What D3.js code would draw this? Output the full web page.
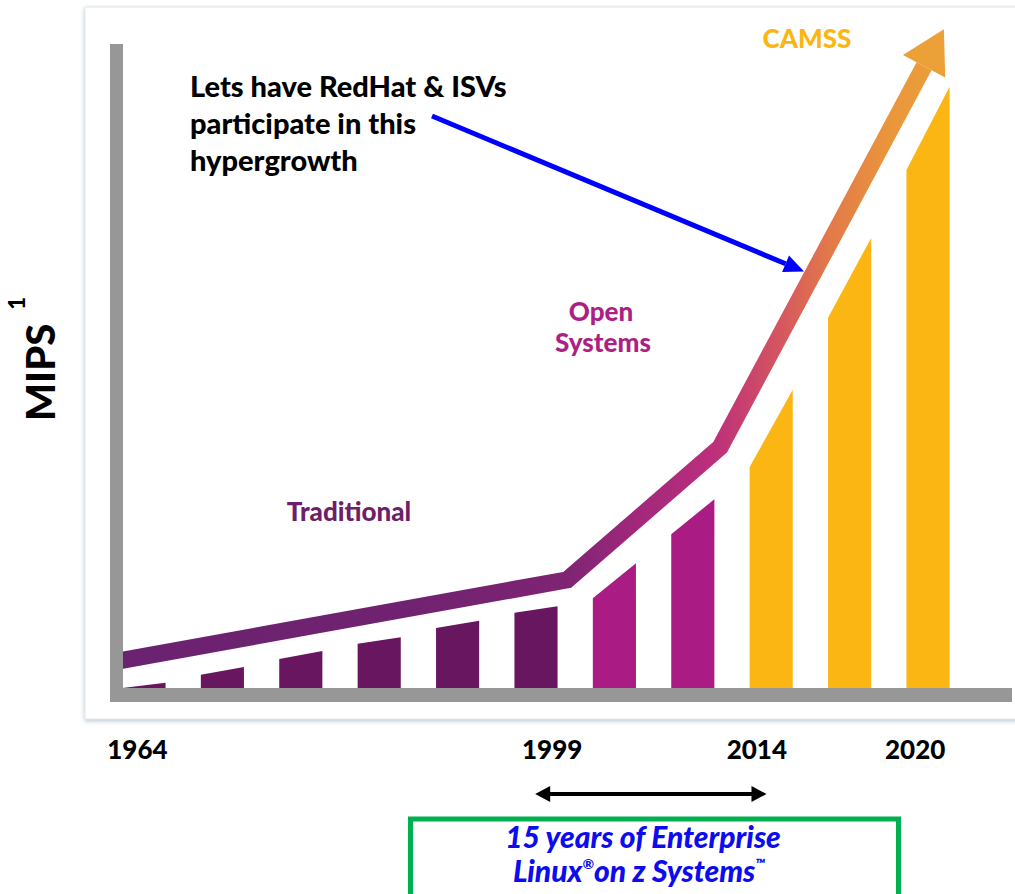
<!DOCTYPE html>
<html>
<head>
<meta charset="utf-8">
<script src="https://cdn.jsdelivr.net/npm/d3@7"></script>
<style>
  body { margin: 0; background: #fff; }
  text { font-family: Lato, "Open Sans", sans-serif; font-weight: 900; }
</style>
</head>
<body>
<div id="chart"></div>
<script>
// bars, left to right; tops are slanted so each bar has a low (left) and high (right) value
var barEra  = ['Traditional', 'Traditional', 'Traditional', 'Traditional', 'Traditional', 'Traditional',
               'Open Systems', 'Open Systems', 'CAMSS', 'CAMSS', 'CAMSS'];
var barLow  = [0, 2.0, 4.4, 6.7, 9.1, 11.4, 13.6, 23.3, 33.5, 56.1, 78.5];
var barHigh = [0.8, 3.2, 5.6, 7.7, 10.2, 12.4, 18.9, 28.6, 45.2, 68.2, 91.1];

// growth trend (position in bar units, MIPS value)
var trendPos   = [-0.32, 5.40, 7.35, 9.95];
var trendValue = [4.1, 16.4, 36.5, 94.2];

// x axis labels
var tickLabels = ['1964', '1999', '2014', '2020'];
var tickPos    = [-0.09, 5.2, 7.81, 9.83];

var eras      = ['Traditional', 'Open Systems', 'CAMSS'];
var eraColors = ['#691660', '#ab1b84', '#fbb614'];

var width = 1015, height = 894;

var svg = d3.select('#chart').append('svg')
    .attr('width', width)
    .attr('height', height);

var defs = svg.append('defs');

var shadow = defs.append('filter')
    .attr('id', 'shadow')
    .attr('x', '-5%').attr('y', '-5%')
    .attr('width', '110%').attr('height', '110%');
shadow.append('feDropShadow')
    .attr('dx', 0).attr('dy', 1.5)
    .attr('stdDeviation', 2)
    .attr('flood-color', '#7d97a6')
    .attr('flood-opacity', 0.55);

var grad = defs.append('linearGradient')
    .attr('id', 'trendGrad')
    .attr('gradientUnits', 'userSpaceOnUse')
    .attr('x1', 120).attr('y1', 0)
    .attr('x2', 945).attr('y2', 0);
[[0, '#6b2271'], [0.35, '#702270'], [0.54, '#7e2473'], [0.63, '#a3287c'],
 [0.72, '#bc2f7b'], [0.80, '#d5565f'], [0.86, '#e2794a'], [0.93, '#ea953c'], [1, '#eca038']]
    .forEach(function(s) {
        grad.append('stop').attr('offset', s[0]).attr('stop-color', s[1]);
    });

// white card behind the chart
svg.append('rect')
    .attr('x', 85).attr('y', 7)
    .attr('width', 1000).attr('height', 712)
    .attr('fill', '#fff')
    .attr('stroke', '#e3e8ec')
    .attr('stroke-width', 1)
    .attr('filter', 'url(#shadow)');

var x = d3.scaleLinear().domain([0, 10]).range([144, 928]);
var y = d3.scaleLinear().domain([0, 100]).range([688, 28]);
var color = d3.scaleOrdinal().domain(eras).range(eraColors);

var barWidth = (x(1) - x(0)) * 0.55;

// bars
svg.append('g').selectAll('polygon')
    .data(barLow)
    .enter().append('polygon')
    .attr('points', function(d, i) {
        var x0 = x(i) - barWidth / 2, x1 = x(i) + barWidth / 2;
        return [[x0, y(0)], [x0, y(barLow[i])], [x1, y(barHigh[i])], [x1, y(0)]].join(' ');
    })
    .attr('fill', function(d, i) { return color(barEra[i]); });

// trend line with arrow head
var trend = trendPos.map(function(p, i) { return [x(p), y(trendValue[i])]; });
var line = d3.line();

svg.append('path')
    .attr('d', line(trend))
    .attr('fill', 'none')
    .attr('stroke', 'url(#trendGrad)')
    .attr('stroke-width', 17)
    .attr('stroke-linejoin', 'miter');

var a = trend[trend.length - 2], b = trend[trend.length - 1];
var len = Math.hypot(b[0] - a[0], b[1] - a[1]);
var ux = (b[0] - a[0]) / len, uy = (b[1] - a[1]) / len;
svg.append('polygon')
    .attr('points', [
        [b[0] + ux * 42, b[1] + uy * 42],
        [b[0] - uy * 24, b[1] + ux * 24],
        [b[0] + uy * 24, b[1] - ux * 24]
    ].join(' '))
    .attr('fill', '#eca038');

// axes (thick grey bars)
svg.append('line')
    .attr('x1', 116.5).attr('y1', 44).attr('x2', 116.5).attr('y2', 702)
    .attr('stroke', '#979797').attr('stroke-width', 13);
svg.append('line')
    .attr('x1', 110).attr('y1', 695).attr('x2', 1012).attr('y2', 695)
    .attr('stroke', '#979797').attr('stroke-width', 14);

var xAxis = d3.axisBottom(x)
    .tickValues(tickPos)
    .tickFormat(function(d, i) { return tickLabels[i]; })
    .tickSize(0)
    .tickPadding(0);

var xAxisG = svg.append('g')
    .attr('transform', 'translate(0,741)')
    .call(xAxis);
xAxisG.select('.domain').remove();
xAxisG.selectAll('text')
    .attr('font-family', 'Lato, sans-serif')
    .attr('font-weight', 900)
    .attr('font-size', 26)
    .attr('fill', '#000');

// y axis title
var yTitle = svg.append('text')
    .attr('transform', 'translate(55,421) rotate(-90)')
    .attr('font-size', 40)
    .attr('fill', '#000');
yTitle.append('tspan').text('MIPS');
yTitle.append('tspan').attr('dx', 14).attr('dy', -30).attr('font-size', 22).text('1');

// era labels
svg.append('text')
    .attr('x', 349).attr('y', 521)
    .attr('text-anchor', 'middle')
    .attr('font-size', 26)
    .attr('fill', '#6d1f6a')
    .text('Traditional');

var openLabel = svg.append('text')
    .attr('text-anchor', 'middle')
    .attr('font-size', 26)
    .attr('fill', '#ad1f85');
openLabel.append('tspan').attr('x', 601).attr('y', 321).text('Open');
openLabel.append('tspan').attr('x', 603).attr('y', 352).text('Systems');

svg.append('text')
    .attr('x', 807).attr('y', 48)
    .attr('text-anchor', 'middle')
    .attr('font-size', 26)
    .attr('fill', '#fbb614')
    .text('CAMSS');

// annotation
var note = svg.append('text')
    .attr('font-size', 29)
    .attr('fill', '#000');
['Lets have RedHat & ISVs', 'participate in this', 'hypergrowth'].forEach(function(t, i) {
    note.append('tspan').attr('x', 190).attr('y', 97 + i * 37).text(t);
});

// blue pointer to the trend line
var c = [x(8.52), y(d3.scaleLinear().domain([trendPos[2], trendPos[3]]).range([trendValue[2], trendValue[3]])(8.52))];
var tip = [c[0] + uy * 9, c[1] - ux * 9];
var start = [432, 116];
var pl = Math.hypot(tip[0] - start[0], tip[1] - start[1]);
var px = (tip[0] - start[0]) / pl, py = (tip[1] - start[1]) / pl;
var base = [tip[0] - px * 20, tip[1] - py * 20];
svg.append('line')
    .attr('x1', start[0]).attr('y1', start[1])
    .attr('x2', base[0]).attr('y2', base[1])
    .attr('stroke', '#0000ff').attr('stroke-width', 5);
svg.append('polygon')
    .attr('points', [tip, [base[0] - py * 9, base[1] + px * 9], [base[0] + py * 9, base[1] - px * 9]].join(' '))
    .attr('fill', '#0000ff');

// 15 years span
var sx0 = x(4.99), sx1 = x(7.94);
svg.append('line')
    .attr('x1', sx0 + 12).attr('y1', 794).attr('x2', sx1 - 12).attr('y2', 794)
    .attr('stroke', '#000').attr('stroke-width', 4);
svg.append('polygon').attr('points', [[sx0, 794], [sx0 + 15, 786], [sx0 + 15, 802]].join(' ')).attr('fill', '#000');
svg.append('polygon').attr('points', [[sx1, 794], [sx1 - 15, 786], [sx1 - 15, 802]].join(' ')).attr('fill', '#000');

svg.append('rect')
    .attr('x', 410.5).attr('y', 819)
    .attr('width', 488).attr('height', 100)
    .attr('fill', 'none')
    .attr('stroke', '#00b050')
    .attr('stroke-width', 5);

var box = svg.append('text')
    .attr('text-anchor', 'middle')
    .attr('font-size', 30)
    .attr('font-style', 'italic')
    .attr('fill', '#0c0cee');
box.append('tspan').attr('x', 643).attr('y', 848).text('15 years of Enterprise');
var l2 = box.append('tspan').attr('x', 639).attr('y', 882);
l2.append('tspan').text('Linux');
l2.append('tspan').attr('font-size', 14).attr('dy', -13).text('®');
l2.append('tspan').attr('dy', 13).text('on z Systems');
l2.append('tspan').attr('font-size', 14).attr('dy', -13).text('™');
</script>
</body>
</html>
